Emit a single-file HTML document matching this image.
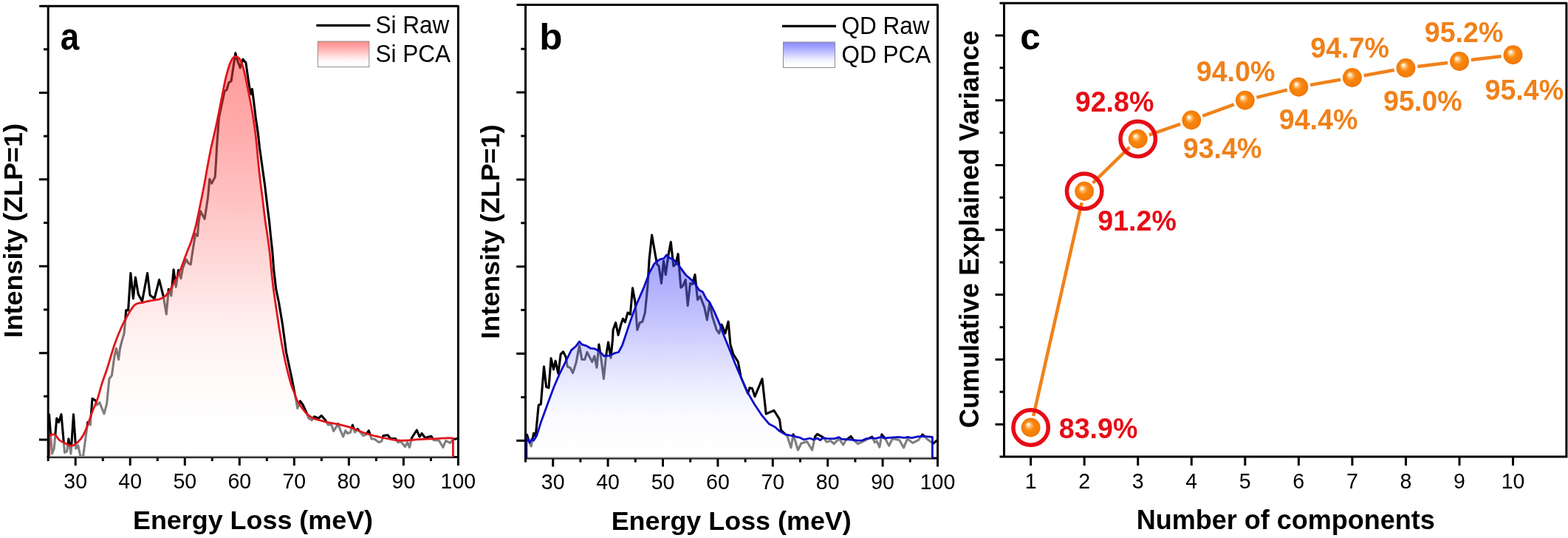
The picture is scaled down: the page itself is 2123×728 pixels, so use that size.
<!DOCTYPE html>
<html lang="en"><head><meta charset="utf-8"><title>PCA denoising of EELS spectra</title>
<style>
html,body{margin:0;padding:0;background:#fff;}
body{width:2123px;height:728px;font-family:"Liberation Sans", Arial, Helvetica, sans-serif;}
svg{display:block;}
text{font-family:"Liberation Sans", Arial, Helvetica, sans-serif;}
.ax{stroke:#000;stroke-width:3;fill:none;stroke-linecap:butt;}
.tl{font-size:28.5px;fill:#000;text-anchor:middle;}
.al{font-size:35.9px;font-weight:bold;fill:#000;text-anchor:middle;}
.pl{font-size:51.5px;font-weight:bold;fill:#000;}
.lg{font-size:31.5px;fill:#000;}
.vo{font-size:37.6px;font-weight:bold;fill:#F0811A;}
.vr{font-size:37.6px;font-weight:bold;fill:#E60D16;}
.raw{stroke:#000;stroke-width:3.1;fill:none;stroke-linejoin:round;stroke-linecap:round;}
</style></head><body>
<svg width="2123" height="728" viewBox="0 0 2123 728" role="img" aria-label="EELS spectra raw versus PCA and cumulative explained variance">
<defs>
<linearGradient id="lr" x1="0" y1="0" x2="0" y2="1"><stop offset="0" stop-color="rgb(255,140,140)" stop-opacity="1"/><stop offset="0.2" stop-color="rgb(255,163,163)" stop-opacity="1"/><stop offset="0.4" stop-color="rgb(255,193,193)" stop-opacity="1"/><stop offset="0.5" stop-color="rgb(255,210,210)" stop-opacity="1"/><stop offset="0.6" stop-color="rgb(255,226,226)" stop-opacity="1"/><stop offset="0.7" stop-color="rgb(255,240,240)" stop-opacity="1"/><stop offset="0.8" stop-color="rgb(255,249,249)" stop-opacity="1"/><stop offset="0.9" stop-color="rgb(255,253,253)" stop-opacity="1"/><stop offset="1" stop-color="rgb(255,255,255)" stop-opacity="1"/></linearGradient>
<linearGradient id="lb" x1="0" y1="0" x2="0" y2="1"><stop offset="0" stop-color="rgb(140,140,255)" stop-opacity="1"/><stop offset="0.2" stop-color="rgb(163,163,255)" stop-opacity="1"/><stop offset="0.4" stop-color="rgb(193,193,255)" stop-opacity="1"/><stop offset="0.5" stop-color="rgb(210,210,255)" stop-opacity="1"/><stop offset="0.6" stop-color="rgb(226,226,255)" stop-opacity="1"/><stop offset="0.7" stop-color="rgb(240,240,255)" stop-opacity="1"/><stop offset="0.8" stop-color="rgb(249,249,255)" stop-opacity="1"/><stop offset="0.9" stop-color="rgb(253,253,255)" stop-opacity="1"/><stop offset="1" stop-color="rgb(255,255,255)" stop-opacity="1"/></linearGradient>
<radialGradient id="ball" cx="0.5" cy="0.5" r="0.5" fx="0.35" fy="0.33"><stop offset="0" stop-color="#ffffff"/><stop offset="0.1" stop-color="#fff1dc"/><stop offset="0.3" stop-color="#fcb158"/><stop offset="0.5" stop-color="#f98610"/><stop offset="0.9" stop-color="#f47c06"/><stop offset="1" stop-color="#e67204"/></radialGradient>
</defs>
<rect x="0" y="0" width="2123" height="728" fill="#fff"/>
<g>
<path class="ax" stroke-linejoin="round" d="M53.2,8.2H620.4V630.0 M63.7,618.5H620.4"/>
<path class="ax" d="M59.0,66.75H65.2M52.9,125.45H65.2M59.0,184.15H65.2M52.9,242.85H65.2M59.0,301.55H65.2M52.9,360.25H65.2M59.0,418.95H65.2M52.9,477.65H65.2M59.0,536.35H65.2M52.9,595.05H65.2"/>
<path class="ax" d="M102.21,618.5V630.0M139.23,618.5V624.0M176.24,618.5V630.0M213.25,618.5V624.0M250.27,618.5V630.0M287.28,618.5V624.0M324.29,618.5V630.0M361.31,618.5V624.0M398.32,618.5V630.0M435.33,618.5V624.0M472.35,618.5V630.0M509.36,618.5V624.0M546.37,618.5V630.0M583.39,618.5V624.0"/>
<text class="tl" transform="translate(102.2,660.6) scale(1,1.06)">30</text>
<text class="tl" transform="translate(176.2,660.6) scale(1,1.06)">40</text>
<text class="tl" transform="translate(250.3,660.6) scale(1,1.06)">50</text>
<text class="tl" transform="translate(324.3,660.6) scale(1,1.06)">60</text>
<text class="tl" transform="translate(398.3,660.6) scale(1,1.06)">70</text>
<text class="tl" transform="translate(472.3,660.6) scale(1,1.06)">80</text>
<text class="tl" transform="translate(546.4,660.6) scale(1,1.06)">90</text>
<text class="tl" transform="translate(620.4,660.6) scale(1,1.06)">100</text>
<polyline class="raw" points="66.5,560.7 70.5,614.0 73.2,607.0 76.8,566.0 79.5,571.4 83.0,560.7 87.5,612.5 90.7,610.7 92.9,593.8 96.0,614.0 99.5,560.7 102.7,607.0 105.7,602.7 109.0,618.0 112.5,618.0 118.8,571.4 122.3,575.0 125.0,539.3 129.5,542.0 131.2,548.0 134.8,544.6 141.0,559.8 144.6,546.4 147.9,512.5 151.4,508.0 155.0,481.5 157.5,471.5 160.5,486.5 162.5,471.5 165.0,461.5 168.0,451.5 169.8,432.7 170.6,419.9 173.6,419.9 176.9,369.6 180.4,404.0 183.4,375.3 187.2,398.0 192.5,407.8 199.6,369.6 203.1,399.5 209.1,404.0 215.6,378.6 221.2,401.0 225.3,425.2 228.3,391.2 231.8,400.2 235.1,364.7 238.2,388.2 241.6,365.5 244.9,376.8 247.6,362.5 252.1,351.1 255.2,356.4 258.2,357.9 260.8,340.0 261.7,334.6 264.6,316.3 267.5,319.2 268.5,303.8 271.3,285.6 277.1,296.2 281.5,267.3 283.8,242.3 286.7,248.1 291.2,239.4 292.5,219.2 293.5,200.0 296.3,160.0 304.0,123.5 306.9,121.5 309.8,111.9 313.1,109.6 315.6,92.7 318.8,71.9 321.3,81.2 325.2,91.7 329.0,80.2 332.9,85.0 334.8,98.5 337.7,117.7 340.0,127.3 341.5,120.6 343.5,136.9 346.3,160.0 349.2,179.2 351.5,200.0 355.0,225.0 358.5,250.0 361.7,276.9 364.6,300.0 366.9,323.1 368.8,340.0 370.6,364.0 373.8,391.5 377.5,409.0 382.5,439.0 387.5,476.5 395.0,511.5 401.5,545.0 402.7,552.5 406.4,542.7 410.2,548.0 414.7,557.8 417.8,566.0 422.3,568.6 425.3,563.8 431.4,566.0 435.1,562.3 440.4,568.3 444.2,575.0 448.7,574.4 451.7,583.4 457.8,573.6 460.8,582.0 464.6,591.0 467.6,582.7 470.6,586.5 474.4,585.0 477.4,575.0 480.5,585.0 484.2,580.4 488.0,585.0 491.8,589.5 495.6,588.0 499.3,582.7 503.1,594.0 506.9,594.0 512.9,598.5 516.7,597.0 519.0,589.5 525.0,588.7 528.8,593.6 535.6,593.6 538.6,598.5 543.1,597.8 548.4,604.6 551.5,598.5 554.5,605.3 557.5,592.5 564.3,582.0 568.0,591.0 571.1,586.5 575.6,592.5 583.9,590.2 587.0,595.5 594.5,596.3 599.8,605.3 603.6,596.3 609.6,599.3 613.4,594.8 618.7,593.5"/>
<defs><linearGradient id="grg" gradientUnits="userSpaceOnUse" x1="0" y1="76.3" x2="0" y2="618.5"><stop offset="0" stop-color="rgb(255,50,50)" stop-opacity="0.5"/><stop offset="0.2" stop-color="rgb(255,91,91)" stop-opacity="0.5"/><stop offset="0.4" stop-color="rgb(255,144,144)" stop-opacity="0.5"/><stop offset="0.5" stop-color="rgb(255,175,175)" stop-opacity="0.5"/><stop offset="0.6" stop-color="rgb(255,204,204)" stop-opacity="0.5"/><stop offset="0.7" stop-color="rgb(255,228,228)" stop-opacity="0.5"/><stop offset="0.8" stop-color="rgb(255,244,244)" stop-opacity="0.5"/><stop offset="0.9" stop-color="rgb(255,252,252)" stop-opacity="0.5"/><stop offset="1" stop-color="rgb(255,255,255)" stop-opacity="0.5"/></linearGradient></defs>
<path d="M66.7,618.7 L66.7,589.3C67.9,589.1 71.8,587.0 74.1,588.0C76.4,589.0 77.9,593.4 80.4,595.5C82.9,597.6 86.5,599.1 89.3,600.4C92.1,601.7 94.6,603.6 97.3,603.2C100.0,602.8 102.9,600.5 105.4,598.2C107.9,595.9 110.3,593.2 112.5,589.3C114.7,585.4 116.7,580.4 118.8,575.0C120.8,569.6 122.8,562.8 125.0,557.0C127.2,551.2 129.8,546.5 132.0,540.0C134.2,533.5 136.2,524.7 138.4,517.9C140.6,511.1 142.2,507.6 145.0,499.0C147.8,490.4 151.7,476.1 155.0,466.5C158.3,456.9 161.9,448.4 165.0,441.5C168.1,434.6 170.7,430.1 173.6,425.2C176.5,420.3 179.4,414.9 182.7,412.3C186.0,409.7 189.4,410.2 193.2,409.3C197.0,408.4 201.5,407.4 205.3,406.7C209.1,405.9 212.9,405.8 215.9,404.8C218.9,403.9 221.1,402.9 223.4,401.0C225.7,399.1 227.5,396.4 229.5,393.4C231.5,390.4 233.2,387.2 235.5,382.9C237.8,378.6 240.6,373.6 243.1,367.8C245.6,362.0 248.8,353.0 250.6,348.1C252.4,343.2 252.8,342.0 254.2,338.5C255.6,335.0 257.1,332.0 258.8,326.9C260.5,321.8 262.7,315.4 264.6,307.7C266.5,300.0 268.5,290.1 270.4,280.8C272.3,271.5 274.4,261.2 276.2,251.9C278.0,242.6 279.4,233.7 281.0,225.0C282.6,216.3 284.1,208.3 285.8,200.0C287.6,191.7 289.8,183.3 291.5,175.4C293.2,167.5 294.7,160.3 296.3,152.3C297.9,144.3 299.6,135.3 301.2,127.3C302.8,119.3 304.4,110.8 306.0,104.2C307.6,97.6 309.4,91.6 310.8,87.5C312.2,83.4 313.3,81.4 314.6,79.5C315.9,77.6 317.2,76.3 318.8,76.3C320.4,76.3 322.6,77.6 324.2,79.5C325.8,81.4 326.8,83.7 328.1,87.5C329.4,91.3 330.6,96.6 331.9,102.3C333.2,108.0 334.5,115.1 335.8,121.5C337.1,127.9 338.3,133.8 339.6,140.8C340.9,147.9 342.3,155.6 343.5,163.8C344.7,172.0 345.8,179.8 346.9,190.0C348.0,200.2 349.2,215.0 350.2,225.0C351.2,235.0 352.1,242.0 353.1,250.0C354.1,258.0 355.1,265.4 356.0,273.1C356.9,280.8 357.7,287.9 358.8,296.2C359.9,304.5 361.7,315.8 362.7,323.1C363.7,330.4 364.2,333.2 365.0,340.0C365.8,346.8 366.5,355.8 367.3,364.0C368.1,372.2 368.7,379.0 370.0,389.0C371.3,399.0 373.3,412.8 375.0,424.0C376.7,435.2 378.1,445.7 380.0,456.5C381.9,467.3 384.0,478.6 386.2,489.0C388.5,499.4 391.8,512.1 393.8,519.0C395.7,525.9 396.6,526.6 398.1,530.6C399.6,534.6 400.9,539.2 402.7,542.7C404.5,546.2 406.6,548.8 408.7,551.7C410.8,554.6 413.0,557.6 415.5,560.0C418.0,562.4 420.9,564.6 423.8,566.0C426.7,567.4 429.6,567.7 432.9,568.6C436.2,569.5 439.1,570.4 443.4,571.4C447.7,572.4 453.4,573.3 458.5,574.4C463.6,575.5 468.6,576.6 473.7,578.2C478.8,579.8 483.8,582.4 488.8,584.2C493.8,586.0 498.9,587.6 503.9,589.0C508.9,590.4 514.5,591.5 519.0,592.5C523.5,593.5 527.5,594.2 531.0,594.8C534.5,595.4 537.0,595.8 540.0,596.0C543.0,596.2 545.7,596.2 549.2,596.0C552.8,595.8 556.8,595.3 561.3,595.0C565.8,594.7 571.4,594.2 576.4,594.0C581.4,593.8 587.0,593.8 591.5,593.6C596.0,593.4 600.0,592.9 603.6,592.8C607.2,592.7 611.8,592.8 613.4,592.8 L613.4,618.7 Z" fill="url(#grg)" stroke="none"/>
<path d="M66.7,618.5 L66.7,589.3C67.9,589.1 71.8,587.0 74.1,588.0C76.4,589.0 77.9,593.4 80.4,595.5C82.9,597.6 86.5,599.1 89.3,600.4C92.1,601.7 94.6,603.6 97.3,603.2C100.0,602.8 102.9,600.5 105.4,598.2C107.9,595.9 110.3,593.2 112.5,589.3C114.7,585.4 116.7,580.4 118.8,575.0C120.8,569.6 122.8,562.8 125.0,557.0C127.2,551.2 129.8,546.5 132.0,540.0C134.2,533.5 136.2,524.7 138.4,517.9C140.6,511.1 142.2,507.6 145.0,499.0C147.8,490.4 151.7,476.1 155.0,466.5C158.3,456.9 161.9,448.4 165.0,441.5C168.1,434.6 170.7,430.1 173.6,425.2C176.5,420.3 179.4,414.9 182.7,412.3C186.0,409.7 189.4,410.2 193.2,409.3C197.0,408.4 201.5,407.4 205.3,406.7C209.1,405.9 212.9,405.8 215.9,404.8C218.9,403.9 221.1,402.9 223.4,401.0C225.7,399.1 227.5,396.4 229.5,393.4C231.5,390.4 233.2,387.2 235.5,382.9C237.8,378.6 240.6,373.6 243.1,367.8C245.6,362.0 248.8,353.0 250.6,348.1C252.4,343.2 252.8,342.0 254.2,338.5C255.6,335.0 257.1,332.0 258.8,326.9C260.5,321.8 262.7,315.4 264.6,307.7C266.5,300.0 268.5,290.1 270.4,280.8C272.3,271.5 274.4,261.2 276.2,251.9C278.0,242.6 279.4,233.7 281.0,225.0C282.6,216.3 284.1,208.3 285.8,200.0C287.6,191.7 289.8,183.3 291.5,175.4C293.2,167.5 294.7,160.3 296.3,152.3C297.9,144.3 299.6,135.3 301.2,127.3C302.8,119.3 304.4,110.8 306.0,104.2C307.6,97.6 309.4,91.6 310.8,87.5C312.2,83.4 313.3,81.4 314.6,79.5C315.9,77.6 317.2,76.3 318.8,76.3C320.4,76.3 322.6,77.6 324.2,79.5C325.8,81.4 326.8,83.7 328.1,87.5C329.4,91.3 330.6,96.6 331.9,102.3C333.2,108.0 334.5,115.1 335.8,121.5C337.1,127.9 338.3,133.8 339.6,140.8C340.9,147.9 342.3,155.6 343.5,163.8C344.7,172.0 345.8,179.8 346.9,190.0C348.0,200.2 349.2,215.0 350.2,225.0C351.2,235.0 352.1,242.0 353.1,250.0C354.1,258.0 355.1,265.4 356.0,273.1C356.9,280.8 357.7,287.9 358.8,296.2C359.9,304.5 361.7,315.8 362.7,323.1C363.7,330.4 364.2,333.2 365.0,340.0C365.8,346.8 366.5,355.8 367.3,364.0C368.1,372.2 368.7,379.0 370.0,389.0C371.3,399.0 373.3,412.8 375.0,424.0C376.7,435.2 378.1,445.7 380.0,456.5C381.9,467.3 384.0,478.6 386.2,489.0C388.5,499.4 391.8,512.1 393.8,519.0C395.7,525.9 396.6,526.6 398.1,530.6C399.6,534.6 400.9,539.2 402.7,542.7C404.5,546.2 406.6,548.8 408.7,551.7C410.8,554.6 413.0,557.6 415.5,560.0C418.0,562.4 420.9,564.6 423.8,566.0C426.7,567.4 429.6,567.7 432.9,568.6C436.2,569.5 439.1,570.4 443.4,571.4C447.7,572.4 453.4,573.3 458.5,574.4C463.6,575.5 468.6,576.6 473.7,578.2C478.8,579.8 483.8,582.4 488.8,584.2C493.8,586.0 498.9,587.6 503.9,589.0C508.9,590.4 514.5,591.5 519.0,592.5C523.5,593.5 527.5,594.2 531.0,594.8C534.5,595.4 537.0,595.8 540.0,596.0C543.0,596.2 545.7,596.2 549.2,596.0C552.8,595.8 556.8,595.3 561.3,595.0C565.8,594.7 571.4,594.2 576.4,594.0C581.4,593.8 587.0,593.8 591.5,593.6C596.0,593.4 600.0,592.9 603.6,592.8C607.2,592.7 611.8,592.8 613.4,592.8 L613.4,618.5" fill="none" stroke="#e0151b" stroke-width="2.8" stroke-linejoin="round"/>
<path class="ax" d="M65.2,624.0V8.2"/>
<text class="pl" transform="translate(81.7,66.6) scale(0.89,1)" style="font-size:51.5px">a</text>
<line x1="428.3" y1="34.4" x2="501.3" y2="34.4" stroke="#000" stroke-width="3.2"/>
<rect x="430.3" y="56" width="69.5" height="34.6" fill="url(#lr)" stroke="#8c8c8c" stroke-width="1"/>
<text class="lg" transform="translate(508.6,44.8) scale(1,1.04)">Si Raw</text>
<text class="lg" transform="translate(508.6,84.3) scale(1,1.04)">Si PCA</text>
<text class="al" transform="translate(29.5,312.2) rotate(-90) scale(1,1.0)">Intensity (ZLP=1)</text>
<text class="al" transform="translate(342.5,715.9) scale(1,1.0)">Energy Loss (meV)</text>
</g>
<g>
<path class="ax" stroke-linejoin="round" d="M699.5,6.6H1269.5V631.5 M710.0,620.0H1269.5"/>
<path class="ax" d="M705.3,66.20H711.5M699.2,125.10H711.5M705.3,184.00H711.5M699.2,242.90H711.5M705.3,301.80H711.5M699.2,360.70H711.5M705.3,419.60H711.5M699.2,478.50H711.5M705.3,537.40H711.5M699.2,596.30H711.5"/>
<path class="ax" d="M748.70,620.0V631.5M785.90,620.0V625.5M823.10,620.0V631.5M860.30,620.0V625.5M897.50,620.0V631.5M934.70,620.0V625.5M971.90,620.0V631.5M1009.10,620.0V625.5M1046.30,620.0V631.5M1083.50,620.0V625.5M1120.70,620.0V631.5M1157.90,620.0V625.5M1195.10,620.0V631.5M1232.30,620.0V625.5"/>
<text class="tl" transform="translate(748.7,662.1) scale(1,1.06)">30</text>
<text class="tl" transform="translate(823.1,662.1) scale(1,1.06)">40</text>
<text class="tl" transform="translate(897.5,662.1) scale(1,1.06)">50</text>
<text class="tl" transform="translate(971.9,662.1) scale(1,1.06)">60</text>
<text class="tl" transform="translate(1046.3,662.1) scale(1,1.06)">70</text>
<text class="tl" transform="translate(1120.7,662.1) scale(1,1.06)">80</text>
<text class="tl" transform="translate(1195.1,662.1) scale(1,1.06)">90</text>
<text class="tl" transform="translate(1269.5,662.1) scale(1,1.06)">100</text>
<polyline class="raw" points="711.4,596.6 713.5,588.3 716.1,596.6 719.2,603.9 722.6,586.2 725.2,590.1 729.2,548.3 732.3,547.0 736.5,496.1 739.6,523.5 743.0,524.8 746.1,484.9 749.5,500.0 752.1,488.3 755.8,505.3 759.2,479.2 762.6,476.0 766.2,483.1 768.3,496.1 772.2,497.9 775.6,504.7 780.0,490.9 784.5,467.4 787.9,486.5 791.8,486.5 794.9,476.5 798.3,483.1 801.7,489.6 804.9,481.8 808.0,497.4 810.9,466.1 814.0,485.7 817.4,512.6 820.5,481.8 823.6,463.0 827.0,484.4 829.4,460.0 830.1,446.4 833.6,436.6 837.1,453.4 840.6,439.4 843.4,431.3 846.4,435.9 849.9,423.1 853.4,425.4 856.5,389.9 860.0,409.1 862.8,446.4 866.3,436.6 869.8,435.2 873.3,423.1 876.8,388.1 879.1,350.7 882.6,318.0 887.3,344.9 889.6,357.7 892.0,360.0 895.5,383.4 898.5,353.0 901.3,371.7 904.8,346.0 908.3,327.4 911.8,360.0 914.8,357.7 918.1,343.7 921.8,389.2 924.6,386.9 928.2,378.7 931.2,413.7 934.5,383.4 937.5,384.6 941.0,371.7 944.5,405.6 948.0,400.9 953.8,416.1 957.3,432.9 960.8,410.2 964.3,427.8 970.2,446.4 973.7,451.1 977.2,439.4 981.9,451.1 986.1,435.2 988.9,466.1 992.8,479.2 999.3,489.6 1003.2,510.5 1012.4,532.7 1015.0,524.8 1018.4,525.6 1022.0,536.6 1032.0,512.6 1037.2,560.1 1047.9,555.3 1055.5,567.5 1057.5,582.1 1065.8,589.8 1070.9,605.8 1074.1,587.9 1080.4,609.0 1084.9,600.0 1092.6,597.5 1099.6,609.0 1103.4,591.1 1106.6,587.3 1114.3,591.7 1119.4,598.1 1124.5,596.2 1129.0,600.7 1136.0,593.6 1141.7,602.0 1144.9,596.2 1152.0,590.4 1155.2,594.9 1161.5,600.7 1167.9,597.5 1180.7,591.1 1184.5,598.7 1187.1,596.8 1190.9,605.1 1193.9,587.9 1198.6,593.6 1203.7,603.2 1208.2,593.6 1217.7,595.6 1223.5,605.8 1228.6,593.6 1235.6,599.4 1243.3,595.6 1249.0,587.9 1254.8,593.6 1258.6,596.8 1263.7,600.0 1268.8,595.6"/>
<defs><linearGradient id="gbg" gradientUnits="userSpaceOnUse" x1="0" y1="344.9" x2="0" y2="620.0"><stop offset="0" stop-color="rgb(72,72,250)" stop-opacity="0.5"/><stop offset="0.2" stop-color="rgb(109,109,251)" stop-opacity="0.5"/><stop offset="0.4" stop-color="rgb(156,156,252)" stop-opacity="0.5"/><stop offset="0.5" stop-color="rgb(184,184,253)" stop-opacity="0.5"/><stop offset="0.6" stop-color="rgb(209,209,254)" stop-opacity="0.5"/><stop offset="0.7" stop-color="rgb(231,231,254)" stop-opacity="0.5"/><stop offset="0.8" stop-color="rgb(245,245,255)" stop-opacity="0.5"/><stop offset="0.9" stop-color="rgb(252,252,255)" stop-opacity="0.5"/><stop offset="1" stop-color="rgb(255,255,255)" stop-opacity="0.5"/></linearGradient></defs>
<path d="M712.9,620.2 L712.9,591.4 L714.8,595.3 L717.4,599.2 L720.0,594.0 L722.6,596.1 L726.5,590.1 L731.8,573.1 L737.0,558.8 L742.2,544.4 L750.0,523.5 L757.9,505.3 L765.7,489.6 L773.5,473.9 L780.0,468.2 L784.5,462.2 L787.9,466.1 L794.4,468.2 L799.6,471.3 L804.9,471.8 L811.4,475.2 L817.9,481.8 L825.7,481.2 L832.3,477.8 L837.5,476.5 L842.2,468.0 L847.0,454.0 L852.1,438.6 L857.0,424.5 L862.3,410.8 L872.1,388.1 L879.1,369.4 L886.1,356.5 L893.1,351.2 L899.0,349.5 L902.5,344.9 L906.0,348.8 L911.8,351.2 L918.8,358.9 L928.2,371.7 L937.5,379.9 L942.2,385.7 L946.8,392.7 L951.5,395.1 L956.2,404.4 L960.8,409.1 L967.8,423.1 L974.8,439.4 L979.7,453.0 L987.6,472.6 L995.4,492.2 L1003.2,510.5 L1012.4,531.4 L1021.5,547.0 L1032.0,562.7 L1041.5,573.8 L1049.2,577.7 L1055.5,583.4 L1063.2,587.9 L1073.4,589.8 L1083.6,592.4 L1088.7,594.9 L1096.4,593.0 L1101.5,594.9 L1106.6,593.0 L1110.5,595.6 L1114.3,592.4 L1119.4,593.4 L1129.6,593.6 L1136.0,591.7 L1139.8,594.3 L1144.9,594.3 L1152.6,595.2 L1161.5,596.2 L1167.9,595.9 L1173.0,593.6 L1180.7,592.6 L1185.8,593.4 L1193.5,591.1 L1197.3,593.0 L1206.2,592.1 L1216.5,591.3 L1224.1,592.4 L1229.2,591.3 L1234.3,592.6 L1242.0,590.8 L1249.7,590.4 L1257.3,590.8 L1262.4,591.5 L1262.4,620.2 Z" fill="url(#gbg)" stroke="none"/>
<path d="M712.9,620.0 L712.9,591.4 L714.8,595.3 L717.4,599.2 L720.0,594.0 L722.6,596.1 L726.5,590.1 L731.8,573.1 L737.0,558.8 L742.2,544.4 L750.0,523.5 L757.9,505.3 L765.7,489.6 L773.5,473.9 L780.0,468.2 L784.5,462.2 L787.9,466.1 L794.4,468.2 L799.6,471.3 L804.9,471.8 L811.4,475.2 L817.9,481.8 L825.7,481.2 L832.3,477.8 L837.5,476.5 L842.2,468.0 L847.0,454.0 L852.1,438.6 L857.0,424.5 L862.3,410.8 L872.1,388.1 L879.1,369.4 L886.1,356.5 L893.1,351.2 L899.0,349.5 L902.5,344.9 L906.0,348.8 L911.8,351.2 L918.8,358.9 L928.2,371.7 L937.5,379.9 L942.2,385.7 L946.8,392.7 L951.5,395.1 L956.2,404.4 L960.8,409.1 L967.8,423.1 L974.8,439.4 L979.7,453.0 L987.6,472.6 L995.4,492.2 L1003.2,510.5 L1012.4,531.4 L1021.5,547.0 L1032.0,562.7 L1041.5,573.8 L1049.2,577.7 L1055.5,583.4 L1063.2,587.9 L1073.4,589.8 L1083.6,592.4 L1088.7,594.9 L1096.4,593.0 L1101.5,594.9 L1106.6,593.0 L1110.5,595.6 L1114.3,592.4 L1119.4,593.4 L1129.6,593.6 L1136.0,591.7 L1139.8,594.3 L1144.9,594.3 L1152.6,595.2 L1161.5,596.2 L1167.9,595.9 L1173.0,593.6 L1180.7,592.6 L1185.8,593.4 L1193.5,591.1 L1197.3,593.0 L1206.2,592.1 L1216.5,591.3 L1224.1,592.4 L1229.2,591.3 L1234.3,592.6 L1242.0,590.8 L1249.7,590.4 L1257.3,590.8 L1262.4,591.5 L1262.4,620.0" fill="none" stroke="#0c0cc8" stroke-width="2.8" stroke-linejoin="round"/>
<path class="ax" d="M711.5,625.5V6.6"/>
<text class="pl" transform="translate(730.2,66.8) scale(1.03,1)" style="font-size:49.6px">b</text>
<line x1="1059.0" y1="35.3" x2="1132" y2="35.3" stroke="#000" stroke-width="3.2"/>
<rect x="1060.5" y="57" width="70.0" height="34.5" fill="url(#lb)" stroke="#8c8c8c" stroke-width="1"/>
<text class="lg" transform="translate(1139.5,45.5) scale(1,1.04)">QD Raw</text>
<text class="lg" transform="translate(1139.5,85) scale(1,1.04)">QD PCA</text>
<text class="al" transform="translate(675.8,313.6) rotate(-90) scale(1,1.0)">Intensity (ZLP=1)</text>
<text class="al" transform="translate(990.2,717.4) scale(1,1.0)">Energy Loss (meV)</text>
</g>
<g>
<path class="ax" stroke-linejoin="round" d="M1359.5,619.5V4.3 M1353.5,4.3H2120.9V619.5 M1353.5,618H2120.9"/>
<path class="ax" d="M1347.5,48.00H1359.5M1347.5,135.70H1359.5M1347.5,223.40H1359.5M1347.5,311.10H1359.5M1347.5,398.80H1359.5M1347.5,486.50H1359.5M1347.5,574.20H1359.5M1353.5,91.85H1359.5M1353.5,179.55H1359.5M1353.5,267.25H1359.5M1353.5,354.95H1359.5M1353.5,442.65H1359.5M1353.5,530.35H1359.5"/>
<text class="tl" transform="translate(1395.6,660.7) scale(1,1.06)">1</text>
<text class="tl" transform="translate(1468.1,660.7) scale(1,1.06)">2</text>
<text class="tl" transform="translate(1540.7,660.7) scale(1,1.06)">3</text>
<text class="tl" transform="translate(1613.2,660.7) scale(1,1.06)">4</text>
<text class="tl" transform="translate(1685.8,660.7) scale(1,1.06)">5</text>
<text class="tl" transform="translate(1758.3,660.7) scale(1,1.06)">6</text>
<text class="tl" transform="translate(1830.9,660.7) scale(1,1.06)">7</text>
<text class="tl" transform="translate(1903.4,660.7) scale(1,1.06)">8</text>
<text class="tl" transform="translate(1976.0,660.7) scale(1,1.06)">9</text>
<text class="tl" transform="translate(2048.5,660.7) scale(1,1.06)">10</text>
<path class="ax" d="M1395.60,618V630M1468.15,618V630M1540.70,618V630M1613.25,618V630M1685.80,618V630M1758.35,618V630M1830.90,618V630M1903.45,618V630M1976.00,618V630M2048.55,618V630"/>
<path d="M1399.14,562.90L1464.61,274.35M1479.60,247.58L1529.25,199.17M1555.79,182.69L1598.16,167.81M1628.26,156.96L1670.79,141.29M1701.33,131.90L1742.82,121.60M1774.11,114.98L1815.14,107.77M1846.65,102.18L1887.70,94.82M1919.33,90.03L1960.12,84.97M1991.88,81.08L2032.67,76.17" stroke="#f0821a" stroke-width="4.5" fill="none" stroke-linecap="butt"/>
<circle cx="1395.60" cy="578.50" r="12.9" fill="url(#ball)"/>
<circle cx="1468.15" cy="258.75" r="12.9" fill="url(#ball)"/>
<circle cx="1540.70" cy="188.00" r="12.9" fill="url(#ball)"/>
<circle cx="1613.25" cy="162.50" r="12.9" fill="url(#ball)"/>
<circle cx="1685.80" cy="135.75" r="12.9" fill="url(#ball)"/>
<circle cx="1758.35" cy="117.75" r="12.9" fill="url(#ball)"/>
<circle cx="1830.90" cy="105.00" r="12.9" fill="url(#ball)"/>
<circle cx="1903.45" cy="92.00" r="12.9" fill="url(#ball)"/>
<circle cx="1976.00" cy="83.00" r="12.9" fill="url(#ball)"/>
<circle cx="2048.55" cy="74.25" r="12.9" fill="url(#ball)"/>
<circle cx="1395.60" cy="578.50" r="23.7" fill="none" stroke="#e60d16" stroke-width="5.5"/>
<circle cx="1468.15" cy="258.75" r="23.7" fill="none" stroke="#e60d16" stroke-width="5.5"/>
<circle cx="1540.70" cy="188.00" r="23.7" fill="none" stroke="#e60d16" stroke-width="5.5"/>
<text class="vr" transform="translate(1433.8,592.55) scale(1,1.04)">83.9%</text>
<text class="vr" transform="translate(1486.3,311.55) scale(1,1.04)">91.2%</text>
<text class="vr" transform="translate(1455.8,151.05) scale(1,1.04)">92.8%</text>
<text class="vo" transform="translate(1601.8,214.05) scale(1,1.04)">93.4%</text>
<text class="vo" transform="translate(1619.8,110.3) scale(1,1.04)">94.0%</text>
<text class="vo" transform="translate(1731.8,175.3) scale(1,1.04)">94.4%</text>
<text class="vo" transform="translate(1774.3,78.3) scale(1,1.04)">94.7%</text>
<text class="vo" transform="translate(1873.05,150.3) scale(1,1.04)">95.0%</text>
<text class="vo" transform="translate(1928.8,57.3) scale(1,1.04)">95.2%</text>
<text class="vo" transform="translate(2010.55,135.3) scale(1,1.04)">95.4%</text>
<text class="pl" transform="translate(1381.3,67) scale(0.98,1)" style="font-size:50.5px">c</text>
<text class="al" transform="translate(1324.9,310.2) rotate(-90) scale(1,1.0)" style="font-size:36.4px">Cumulative Explained Variance</text>
<text class="al" transform="translate(1740.8,716) scale(1,1.0)" style="font-size:36px">Number of components</text>
</g>
</svg></body></html>
